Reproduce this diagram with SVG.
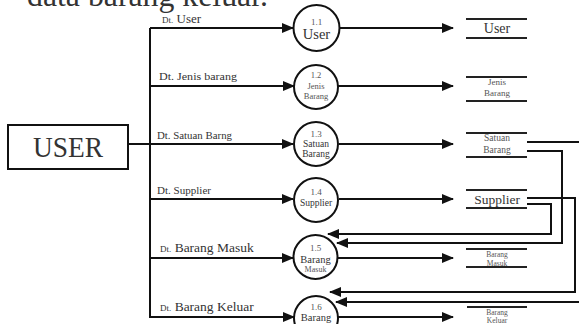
<svg xmlns="http://www.w3.org/2000/svg" width="579" height="324" viewBox="0 0 579 324">
  <defs>
    <marker id="arrow" markerUnits="userSpaceOnUse" markerWidth="12" markerHeight="10" refX="11" refY="5" orient="auto">
      <path d="M0,0 L12,5 L0,10 Z" fill="#111"/>
    </marker>
  </defs>
  <style>
    .ln { stroke: #111; stroke-width: 2; fill: none; }
    .fl { stroke: #111; stroke-width: 2; fill: none; marker-end: url(#arrow); }
    .proc { stroke: #111; stroke-width: 2; fill: #fff; }
    .store { stroke: #222; stroke-width: 2; }
    text { font-family: "Liberation Serif", "Times New Roman", serif; fill: #333; }
    .c { text-anchor: middle; }
    .sm { fill: #555; }
  </style>
  <rect width="579" height="324" fill="#fff"/>

  <!-- heading line, cut at the top edge -->
  <text x="27" y="6" font-size="31" textLength="241" lengthAdjust="spacingAndGlyphs" fill="#111">data barang keluar.</text>

  <!-- external entity -->
  <g id="user-entity">
    <rect x="8" y="125" width="120" height="44" fill="#fff" stroke="#111" stroke-width="2"/>
    <text x="68" y="157" font-size="30" class="c" textLength="70" lengthAdjust="spacingAndGlyphs" fill="#222">USER</text>
  </g>

  <!-- data flows -->
  <g id="connectors">
    <line class="ln" x1="128" y1="144" x2="150" y2="144"/>
    <line class="ln" x1="150" y1="28" x2="150" y2="317"/>
    <line class="fl" x1="150" y1="28" x2="293" y2="28"/>
    <line class="fl" x1="150" y1="86" x2="294" y2="86"/>
    <line class="fl" x1="150" y1="144" x2="293" y2="144"/>
    <line class="fl" x1="150" y1="199" x2="293" y2="199"/>
    <line class="fl" x1="150" y1="258" x2="293" y2="258"/>
    <line class="fl" x1="149" y1="317" x2="294" y2="317"/>

    <line class="fl" x1="339" y1="28" x2="453" y2="28"/>
    <line class="fl" x1="338" y1="86" x2="453" y2="86"/>
    <line class="fl" x1="339" y1="144" x2="453" y2="144"/>
    <line class="fl" x1="339" y1="199" x2="453" y2="199"/>
    <line class="fl" x1="338" y1="258" x2="453" y2="258"/>
    <line class="fl" x1="338" y1="317" x2="453" y2="317"/>

    <!-- stores read back into 1.5 and 1.6 -->
    <polyline class="ln" points="527,142 580,142"/>
    <polyline class="fl" points="527,151 562,151 562,243 337,243"/>
    <polyline class="fl" points="527,204 551,204 551,234 328,234"/>
    <polyline class="fl" points="527,198 575,198 575,292 330,292"/>
    <polyline class="fl" points="580,302 336,302"/>
  </g>

  <!-- processes -->
  <g id="p1-1">
    <circle class="proc" cx="316.5" cy="28" r="23"/>
    <text x="316.5" y="25" font-size="9" class="c sm">1.1</text>
    <text x="316.5" y="39" font-size="14.5" class="c">User</text>
  </g>
  <g id="p1-2">
    <circle class="proc" cx="316" cy="87" r="22"/>
    <text x="316" y="78" font-size="8.5" class="c sm">1.2</text>
    <text x="316" y="89" font-size="8.5" class="c sm">Jenis</text>
    <text x="316" y="99" font-size="8.5" class="c sm">Barang</text>
  </g>
  <g id="p1-3">
    <circle class="proc" cx="316" cy="144" r="22"/>
    <text x="316" y="137" font-size="9" class="c sm">1.3</text>
    <text x="316" y="147" font-size="9.5" class="c">Satuan</text>
    <text x="316" y="157" font-size="9.5" class="c">Barang</text>
  </g>
  <g id="p1-4">
    <circle class="proc" cx="316" cy="200" r="22"/>
    <text x="316" y="195" font-size="9" class="c sm">1.4</text>
    <text x="316" y="206" font-size="9.5" class="c">Supplier</text>
  </g>
  <g id="p1-5">
    <circle class="proc" cx="315.5" cy="257" r="22"/>
    <text x="315.5" y="251" font-size="9" class="c sm">1.5</text>
    <text x="315.5" y="263" font-size="10.5" class="c">Barang</text>
    <text x="315.5" y="272" font-size="8" class="c sm">Masuk</text>
  </g>
  <g id="p1-6">
    <circle class="proc" cx="316" cy="318" r="22"/>
    <text x="316" y="310" font-size="9" class="c sm">1.6</text>
    <text x="316" y="321" font-size="10.5" class="c">Barang</text>
  </g>

  <!-- data stores -->
  <g id="s-user">
    <line class="store" x1="466" y1="19" x2="527" y2="19"/>
    <line class="store" x1="466" y1="38" x2="527" y2="38"/>
    <text x="497" y="33" font-size="14" class="c">User</text>
  </g>
  <g id="s-jenis">
    <line class="store" x1="466" y1="77" x2="527" y2="77"/>
    <line class="store" x1="466" y1="101" x2="527" y2="101"/>
    <text x="497" y="85" font-size="9" class="c sm">Jenis</text>
    <text x="497" y="96" font-size="9" class="c sm">Barang</text>
  </g>
  <g id="s-satuan">
    <line class="store" x1="466" y1="133" x2="527" y2="133"/>
    <line class="store" x1="466" y1="157" x2="527" y2="157"/>
    <text x="497" y="141" font-size="9.5" class="c sm">Satuan</text>
    <text x="497" y="153" font-size="9.5" class="c sm">Barang</text>
  </g>
  <g id="s-supplier">
    <line class="store" x1="466" y1="190" x2="527" y2="190"/>
    <line class="store" x1="466" y1="208" x2="527" y2="208"/>
    <text x="497" y="204" font-size="13.5" class="c">Supplier</text>
  </g>
  <g id="s-masuk">
    <line class="store" x1="466" y1="249" x2="527" y2="249"/>
    <line class="store" x1="466" y1="267" x2="527" y2="267"/>
    <text x="497" y="257" font-size="7.5" class="c sm">Barang</text>
    <text x="497" y="266" font-size="7.5" class="c sm">Masuk</text>
  </g>
  <g id="s-keluar">
    <line class="store" x1="467" y1="307" x2="527" y2="307"/>
    <line class="store" x1="467" y1="326" x2="527" y2="326"/>
    <text x="497" y="315" font-size="7.5" class="c sm">Barang</text>
    <text x="497" y="323" font-size="7.5" class="c sm">Keluar</text>
  </g>

  <!-- flow labels -->
  <g id="flow-labels">
    <text x="162" y="23" font-size="13"><tspan font-size="9">Dt.</tspan> User</text>
    <text x="159" y="80" font-size="10.5" textLength="78" lengthAdjust="spacingAndGlyphs">Dt. Jenis barang</text>
    <text x="157" y="139" font-size="10.5" textLength="75" lengthAdjust="spacingAndGlyphs">Dt. Satuan Barng</text>
    <text x="157" y="194" font-size="10.5" textLength="54" lengthAdjust="spacingAndGlyphs">Dt. Supplier</text>
    <text x="160" y="252" font-size="13.5"><tspan font-size="9">Dt.</tspan> Barang Masuk</text>
    <text x="160" y="311" font-size="13.5"><tspan font-size="9">Dt.</tspan> Barang Keluar</text>
  </g>
</svg>
